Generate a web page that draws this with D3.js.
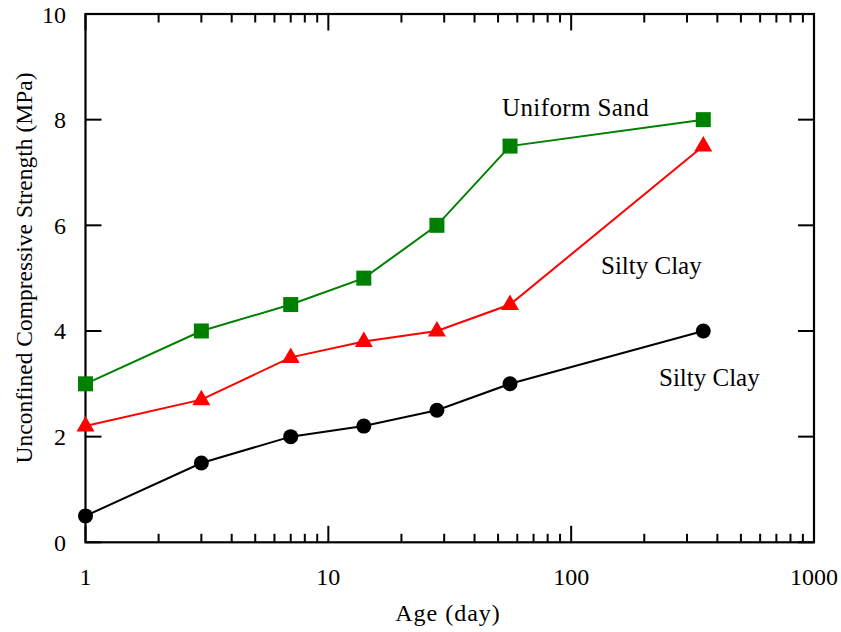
<!DOCTYPE html>
<html><head><meta charset="utf-8">
<script src="https://cdn.jsdelivr.net/npm/d3@7/dist/d3.min.js"></script>
<style>body{margin:0;background:#fff}svg{display:block}text{font-family:"Liberation Serif","DejaVu Serif",serif;fill:#000}</style>
</head><body><svg id="c" width="841" height="632"></svg>
<script>
const ages = [1, 3, 7, 14, 28, 56, 350];
const uniformSand = [3.0, 4.0, 4.5, 5.0, 6.0, 7.5, 8.0];
const siltyClayRed = [2.2, 2.7, 3.5, 3.8, 4.0, 4.5, 7.5];
const siltyClayBlack = [0.5, 1.5, 2.0, 2.2, 2.5, 3.0, 4.0];
const xTickLabels = [1, 10, 100, 1000];
const yTickLabels = [0, 2, 4, 6, 8, 10];
const seriesNames = ["Uniform Sand", "Silty Clay", "Silty Clay"];

const svg = d3.select("#c");
const L = 85.5, R = 814, T = 14, B = 542.3;
const x = d3.scaleLog().domain([1, 1000]).range([L, R]);
const y = d3.scaleLinear().domain([0, 10]).range([B, T]);

const minor = [];
for (let d = 1; d < 1000; d *= 10) for (let k = 2; k <= 9; k++) minor.push(d * k);

const g = svg.append("g");
g.append("rect").attr("x", L).attr("y", T).attr("width", R - L).attr("height", B - T)
  .attr("fill", "none").attr("stroke", "#000").attr("stroke-width", 2.2);

[[B, -1], [T, 1]].forEach(([yy, dir]) => {
  g.selectAll(null).data(minor).enter().append("line")
    .attr("x1", d => x(d)).attr("x2", d => x(d))
    .attr("y1", yy).attr("y2", yy + dir * 8.5).attr("stroke", "#000").attr("stroke-width", 2);
  g.selectAll(null).data(xTickLabels).enter().append("line")
    .attr("x1", d => x(d)).attr("x2", d => x(d))
    .attr("y1", yy).attr("y2", yy + dir * 16.5).attr("stroke", "#000").attr("stroke-width", 2);
});
[[L, 1], [R, -1]].forEach(([xx, dir]) => {
  g.selectAll(null).data(yTickLabels).enter().append("line")
    .attr("x1", xx).attr("x2", xx + dir * 16)
    .attr("y1", d => y(d)).attr("y2", d => y(d)).attr("stroke", "#000").attr("stroke-width", 2);
});

g.selectAll(null).data(xTickLabels).enter().append("text")
  .attr("x", d => x(d)).attr("y", 585).attr("text-anchor", "middle")
  .attr("font-size", 24).text(d => d);
g.selectAll(null).data(yTickLabels).enter().append("text")
  .attr("x", 66).attr("y", d => y(d) + 8.5).attr("text-anchor", "end")
  .attr("font-size", 24).text(d => d);

svg.append("text").attr("x", 448).attr("y", 621).attr("text-anchor", "middle")
  .attr("font-size", 24).attr("letter-spacing", 1).text("Age (day)");
svg.append("text").attr("transform", "translate(32,268) rotate(-90)").attr("text-anchor", "middle")
  .attr("font-size", 23.5).text("Unconfined Compressive Strength (MPa)");

const line = d3.line().x(d => x(d[0])).y(d => y(d[1]));
const series = [
  {vals: uniformSand, color: "#008000", shape: "square"},
  {vals: siltyClayRed, color: "#ff0000", shape: "triangle"},
  {vals: siltyClayBlack, color: "#000000", shape: "circle"}
];
series.forEach(s => {
  const pts = ages.map((a, i) => [a, s.vals[i]]);
  svg.append("path").attr("d", line(pts)).attr("fill", "none")
    .attr("stroke", s.color).attr("stroke-width", 2);
  const sel = svg.selectAll(null).data(pts).enter();
  if (s.shape === "square") {
    sel.append("rect").attr("x", d => x(d[0]) - 7.5).attr("y", d => y(d[1]) - 7.5)
      .attr("width", 15).attr("height", 15).attr("fill", s.color);
  } else if (s.shape === "triangle") {
    sel.append("path").attr("d", d => {
      const cx = x(d[0]), cy = y(d[1]);
      return `M${cx},${cy - 10}L${cx + 9},${cy + 5.5}L${cx - 9},${cy + 5.5}Z`;
    }).attr("fill", s.color);
  } else {
    sel.append("circle").attr("cx", d => x(d[0])).attr("cy", d => y(d[1]))
      .attr("r", 7.5).attr("fill", s.color);
  }
});

const annPos = [[502, 116], [601, 274], [659, 386]];
seriesNames.forEach((n, i) => {
  svg.append("text").attr("x", annPos[i][0]).attr("y", annPos[i][1])
    .attr("font-size", 25).attr("letter-spacing", i === 0 ? 0.4 : 0).text(n);
});
</script></body></html>
